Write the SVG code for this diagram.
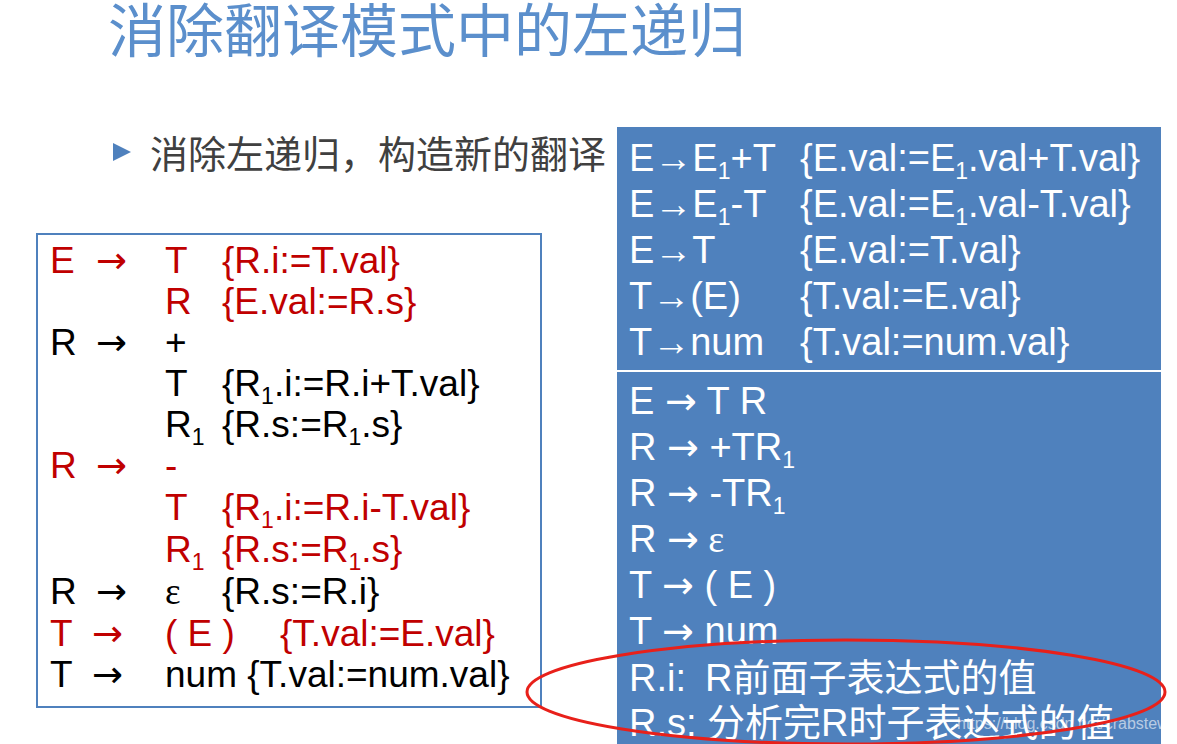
<svg xmlns="http://www.w3.org/2000/svg" width="1177" height="744" viewBox="0 0 1177 744">
<style>
text{font-family:"Liberation Sans","Noto Sans CJK SC",sans-serif}
.l{font-size:37px}
.r{fill:#C00000}
.k{fill:#000}
.w{font-size:38px;fill:#fff}
.s{font-size:23px}
.a{font-family:"DejaVu Sans",sans-serif}
</style>
<rect width="1177" height="744" fill="#fff"/>
<text x="108" y="52" font-size="58" fill="#5B8FCC">消除翻译模式中的左递归</text>
<polygon points="113,143 131,152 113,161" fill="#4F81BD"/>
<text x="150" y="168" font-size="38" fill="#404040">消除左递归，构造新的翻译</text>
<g id="left">
<rect x="37" y="234" width="504" height="473" fill="#fff" stroke="#4F81BD" stroke-width="2"/>
<g class="l">
<text class="r" y="273"><tspan x="50">E</tspan><tspan x="96" class="a">→</tspan><tspan x="165">T</tspan><tspan x="222">{R.i:=T.val}</tspan></text>
<text class="r" y="314"><tspan x="165">R</tspan><tspan x="222">{E.val:=R.s}</tspan></text>
<text class="k" y="355"><tspan x="50">R</tspan><tspan x="96" class="a">→</tspan><tspan x="165">+</tspan></text>
<text class="k" y="396"><tspan x="165">T</tspan><tspan x="222">{R</tspan><tspan class="s" dy="8">1</tspan><tspan dy="-8">.i:=R.i+T.val}</tspan></text>
<text class="k" y="437"><tspan x="165">R</tspan><tspan class="s" dy="8">1</tspan><tspan x="222" dy="-8">{R.s:=R</tspan><tspan class="s" dy="8">1</tspan><tspan dy="-8">.s}</tspan></text>
<text class="r" y="478"><tspan x="50">R</tspan><tspan x="96" class="a">→</tspan><tspan x="165">-</tspan></text>
<text class="r" y="520"><tspan x="165">T</tspan><tspan x="222">{R</tspan><tspan class="s" dy="8">1</tspan><tspan dy="-8">.i:=R.i-T.val}</tspan></text>
<text class="r" y="562"><tspan x="165">R</tspan><tspan class="s" dy="8">1</tspan><tspan x="222" dy="-8">{R.s:=R</tspan><tspan class="s" dy="8">1</tspan><tspan dy="-8">.s}</tspan></text>
<text class="k" y="604"><tspan x="50">R</tspan><tspan x="96" class="a">→</tspan><tspan x="165" font-family="Liberation Serif">ε</tspan><tspan x="222">{R.s:=R.i}</tspan></text>
<text class="r" y="646"><tspan x="50">T</tspan><tspan x="92" class="a">→</tspan><tspan x="165">( E )</tspan><tspan x="280">{T.val:=E.val}</tspan></text>
<text class="k" y="687"><tspan x="50">T</tspan><tspan x="92" class="a">→</tspan><tspan x="165">num {T.val:=num.val}</tspan></text>
</g>
</g>
<g id="right">
<rect x="617" y="127" width="544" height="617" fill="#4F81BD"/>
<line x1="617" y1="371" x2="1161" y2="371" stroke="#fff" stroke-width="2"/>
<g class="w">
<text y="171"><tspan x="629">E→E</tspan><tspan class="s" dy="8">1</tspan><tspan dy="-8">+T</tspan><tspan x="800">{E.val:=E</tspan><tspan class="s" dy="8">1</tspan><tspan dy="-8">.val+T.val}</tspan></text>
<text y="217"><tspan x="629">E→E</tspan><tspan class="s" dy="8">1</tspan><tspan dy="-8">-T</tspan><tspan x="800">{E.val:=E</tspan><tspan class="s" dy="8">1</tspan><tspan dy="-8">.val-T.val}</tspan></text>
<text y="263"><tspan x="629">E→T</tspan><tspan x="800">{E.val:=T.val}</tspan></text>
<text y="309"><tspan x="629">T→(E)</tspan><tspan x="800">{T.val:=E.val}</tspan></text>
<text y="355"><tspan x="629">T→num</tspan><tspan x="800">{T.val:=num.val}</tspan></text>
<text y="414"><tspan x="629">E </tspan><tspan class="a">→</tspan><tspan> T R</tspan></text>
<text y="460"><tspan x="629">R </tspan><tspan class="a">→</tspan><tspan> +TR</tspan><tspan class="s" dy="8">1</tspan></text>
<text y="506"><tspan x="629">R </tspan><tspan class="a">→</tspan><tspan> -TR</tspan><tspan class="s" dy="8">1</tspan></text>
<text y="552"><tspan x="629">R </tspan><tspan class="a">→</tspan><tspan font-family="Liberation Serif"> ε</tspan></text>
<text y="598"><tspan x="629">T </tspan><tspan class="a">→</tspan><tspan> ( E )</tspan></text>
<text y="644"><tspan x="629">T </tspan><tspan class="a">→</tspan><tspan> num</tspan></text>
<text y="691"><tspan x="629">R.i:</tspan><tspan x="705">R前面子表达式的值</tspan></text>
<text x="629" y="736">R.s: 分析完R时子表达式的值</text>
</g>
<text x="957" y="729" font-size="16" fill="#fff" fill-opacity="0.6">https://blog.csdn.net/crabstew</text>
</g>
<ellipse id="mark" cx="846" cy="692" rx="319" ry="52" fill="none" stroke="#E8201A" stroke-width="3"/>
</svg>
